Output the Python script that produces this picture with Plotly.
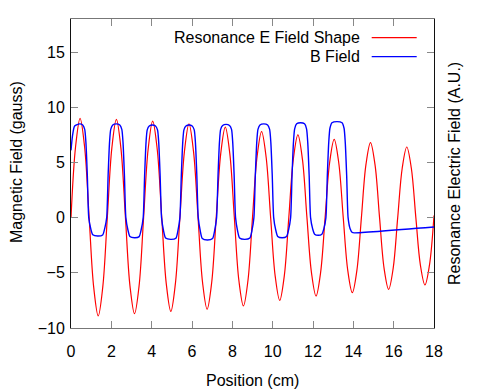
import plotly.graph_objects as go

# ---- data ----
position_e = [round(0.225 * i, 4) for i in range(81)]  # cm
e_field = [
    0, 6.4, 9.0, 6.4, 0, -6.3, -8.9, -6.3,
    0, 6.3, 8.9, 6.3, 0, -6.2, -8.7, -6.2,
    0, 6.2, 8.75, 6.2, 0, -6.0, -8.5, -6.0,
    0, 6.0, 8.5, 6.0, 0, -5.9, -8.3, -5.9,
    0, 5.8, 8.2, 5.8, 0, -5.7, -8.0, -5.7,
    0, 5.5, 7.8, 5.5, 0, -5.3, -7.5, -5.3,
    0, 5.3, 7.5, 5.3, 0, -5.0, -7.1, -5.0,
    0, 5.0, 7.1, 5.0, 0, -4.8, -6.8, -4.8,
    0, 4.8, 6.8, 4.8, 0, -4.6, -6.5, -4.6,
    0, 4.5, 6.4, 4.5, 0, -4.3, -6.1, -4.3,
    0.2,
]

position_b = [
    0.0, 0.08, 0.18, 0.43, 0.58, 0.68, 0.74, 0.81, 0.88, 0.98, 1.08, 1.325,
    1.57, 1.67, 1.77, 1.84, 1.91, 1.97, 2.07, 2.245, 2.42, 2.52, 2.58, 2.65, 2.72, 2.82, 2.92, 3.15,
    3.38, 3.48, 3.58, 3.65, 3.72, 3.78, 3.88, 4.035, 4.19, 4.29, 4.35, 4.42, 4.49, 4.59, 4.69, 4.945,
    5.20, 5.30, 5.40, 5.47, 5.54, 5.60, 5.70, 5.855, 6.01, 6.11, 6.17, 6.24, 6.31, 6.41, 6.51, 6.765,
    7.02, 7.12, 7.22, 7.29, 7.36, 7.42, 7.52, 7.69, 7.86, 7.96, 8.02, 8.09, 8.16, 8.26, 8.36, 8.615,
    8.87, 8.97, 9.07, 9.14, 9.21, 9.27, 9.37, 9.56, 9.75, 9.85, 9.91, 9.98, 10.05, 10.15, 10.25, 10.47,
    10.69, 10.79, 10.89, 10.96, 11.03, 11.09, 11.19, 11.385, 11.58, 11.68, 11.74, 11.81, 11.88, 11.98, 12.08, 12.26,
    12.44, 12.54, 12.64, 12.71, 12.78, 12.84, 12.94, 13.19, 13.44, 13.54, 13.60, 13.67, 13.74, 13.84, 13.95, 14.05,
    18.0,
]
b_field = [
    6.1, 7.5, 8.3, 8.5, 8.4, 8.0, 6.8, 3.8, 0, -1.0, -1.55, -1.67,
    -1.57, -1.0, 0, 3.8, 6.8, 8.0, 8.4, 8.5, 8.4, 8.0, 6.8, 3.8, 0, -1.1, -1.7, -1.82,
    -1.72, -1.1, 0, 3.8, 6.8, 7.95, 8.3, 8.4, 8.3, 7.95, 6.8, 3.8, 0, -1.2, -1.85, -1.97,
    -1.87, -1.2, 0, 3.8, 6.8, 7.95, 8.3, 8.4, 8.3, 7.95, 6.8, 3.8, 0, -1.2, -1.9, -2.03,
    -1.9, -1.2, 0, 3.8, 6.8, 8.0, 8.35, 8.45, 8.35, 8.0, 6.8, 3.8, 0, -1.2, -1.85, -1.97,
    -1.85, -1.2, 0, 3.8, 6.8, 8.0, 8.4, 8.5, 8.4, 8.0, 6.8, 3.8, 0, -1.1, -1.7, -1.82,
    -1.7, -1.1, 0, 3.8, 6.8, 8.05, 8.5, 8.6, 8.5, 8.05, 6.8, 3.8, 0, -1.0, -1.5, -1.6,
    -1.5, -1.0, 0, 3.8, 6.8, 8.1, 8.6, 8.7, 8.6, 8.1, 6.8, 3.8, 0, -1.0, -1.35, -1.38,
    -0.85,
]

x_ticks = [0, 2, 4, 6, 8, 10, 12, 14, 16, 18]
y_ticks = [-10, -5, 0, 5, 10, 15]

series_names = ["Resonance E Field Shape", "B Field"]
series_colors = ["#ff0000", "#0000ff"]

FONT = "Liberation Sans, Arial, sans-serif"

fig = go.Figure()
fig.add_trace(go.Scatter(x=position_e, y=e_field, mode="lines", name=series_names[0],
                         line=dict(color=series_colors[0], width=1.2, shape="spline", smoothing=1.0)))
fig.add_trace(go.Scatter(x=position_b, y=b_field, mode="lines", name=series_names[1],
                         line=dict(color=series_colors[1], width=1.4, shape="spline", smoothing=0.6)))

L, R, T, B = 71, 57, 19, 64
W, H = 491, 392
pw, ph = W - L - R, H - T - B


def px2paper(px, py):
    return (px - L) / pw, (H - B - py) / ph


fig.update_layout(
    width=W, height=H,
    margin=dict(l=L, r=R, t=T, b=B, pad=0),
    paper_bgcolor="white", plot_bgcolor="white",
    showlegend=False,
    font=dict(family=FONT, size=16, color="black"),
    xaxis=dict(range=[0, 18], tickvals=x_ticks, ticks="inside", ticklen=7, tickcolor="#888888",
               showline=True, linecolor="#777777", linewidth=1, mirror="ticks",
               ticklabelstandoff=9,
               showgrid=False, zeroline=False, tickfont=dict(size=16, family=FONT)),
    yaxis=dict(range=[-10, 18], tickvals=y_ticks, ticks="inside", ticklen=7, tickcolor="#888888",
               showline=True, linecolor="#111111", linewidth=1, mirror="ticks",
               ticklabelstandoff=2,
               showgrid=False, zeroline=False, tickfont=dict(size=16, family=FONT)),
)

ann = []
x, y = px2paper(16, 162)
ann.append(dict(text="Magnetic Field (gauss)", x=x, y=y, xref="paper", yref="paper",
                textangle=-90, showarrow=False, xanchor="center", yanchor="middle"))
x, y = px2paper(455, 174)
ann.append(dict(text="Resonance Electric Field (A.U.)", x=x, y=y, xref="paper", yref="paper",
                textangle=-90, showarrow=False, xanchor="center", yanchor="middle"))
x, y = px2paper(252.5, 380)
ann.append(dict(text="Position (cm)", x=x, y=y, xref="paper", yref="paper",
                showarrow=False, xanchor="center", yanchor="middle"))

shapes = []
for i, (name, col, py) in enumerate(zip(series_names, series_colors, [37.7, 56.7])):
    x, y = px2paper(361.7, py)
    ann.append(dict(text=name, x=x, y=y, xref="paper", yref="paper", showarrow=False,
                    xanchor="right", yanchor="middle"))
    x0, _ = px2paper(371.7, py)
    x1, _ = px2paper(416.7, py)
    shapes.append(dict(type="line", xref="paper", yref="paper", x0=x0, x1=x1, y0=y, y1=y,
                       line=dict(color=col, width=1.2)))

fig.update_layout(annotations=ann, shapes=shapes)
fig.write_html("out.html", config={"displayModeBar": False},
               post_script="document.body.style.margin='0';document.body.style.overflow='hidden';")
